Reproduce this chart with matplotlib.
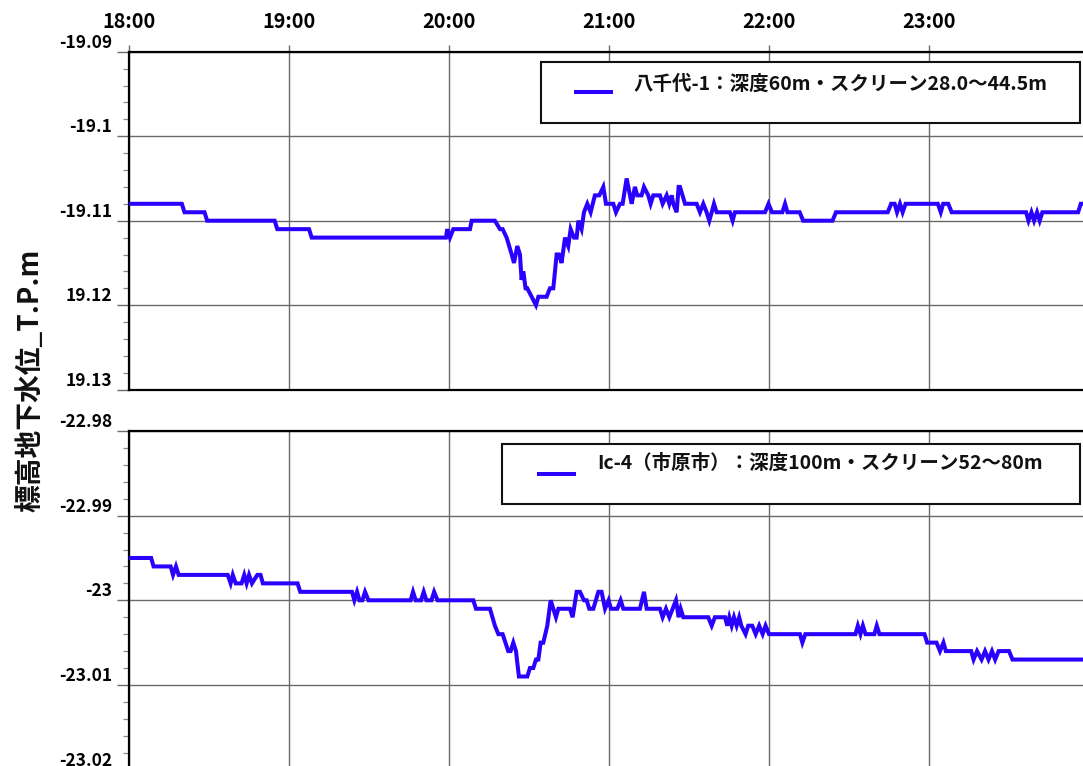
import matplotlib
matplotlib.use("Agg")
import matplotlib.pyplot as plt
import matplotlib.dates as mdates
from matplotlib.patches import Rectangle
from matplotlib.lines import Line2D
from matplotlib.ticker import AutoMinorLocator, FixedLocator, FixedFormatter
import pandas as pd
import numpy as np

plt.rcParams['font.family'] = ['Noto Sans CJK JP', 'DejaVu Sans']
plt.rcParams['font.weight'] = 'bold'

# ---- data: minutes after 18:00 and groundwater level (T.P. m) ----
yachiyo_min = [0, 19.7, 20.7, 28.2, 29.2, 54.5, 55.5, 67.4, 68.4, 118.75, 119.25, 120.25,
               121.5, 127.75, 128.4, 137.1, 139.0, 140.0, 141.5, 143.4, 144.25, 145.5,
               146.5, 147.1, 147.75, 148.6, 149.25, 152.5, 153.4, 156.5, 157.75, 159.0,
               160.25, 161.1, 162.1, 163.4, 164.6, 165.5, 166.75, 167.75, 168.4, 169.6,
               170.5, 171.75, 173.0, 174.6, 176.25, 177.75, 178.75, 181.5, 182.5, 184.0,
               185.0, 186.5, 187.75, 188.4, 189.6, 190.5, 192.1, 193.0, 194.6, 195.5,
               196.5, 199.0, 200.0, 201.5, 202.5, 203.4, 204.0, 205.25, 206.0, 206.5,
               208.4, 212.75, 214.0, 215.25, 216.5, 217.5, 218.4, 219.25, 220.25, 225.25,
               226.25, 227.1, 238.4, 239.7, 241.0, 244.9, 245.9, 246.8, 251.4, 252.7,
               263.7, 265.0, 284.4, 285.7, 287.0, 287.9, 289.0, 290.0, 291.1, 303.2,
               304.3, 305.2, 307.1, 308.4, 336.3, 337.2, 338.3, 339.3, 340.4, 341.4,
               342.4, 355.8, 356.8, 362.0]
yachiyo_lvl = [-19.108, -19.108, -19.109, -19.109, -19.110, -19.110, -19.111, -19.111,
               -19.112, -19.112, -19.111, -19.112, -19.111, -19.111, -19.110, -19.110,
               -19.111, -19.111, -19.112, -19.114, -19.115, -19.113, -19.114, -19.117,
               -19.116, -19.118, -19.118, -19.120, -19.119, -19.119, -19.118, -19.118,
               -19.114, -19.114, -19.115, -19.112, -19.113, -19.111, -19.112, -19.112,
               -19.110, -19.111, -19.109, -19.108, -19.109, -19.107, -19.107, -19.106,
               -19.108, -19.108, -19.109, -19.108, -19.108, -19.105, -19.107, -19.108,
               -19.106, -19.107, -19.107, -19.106, -19.107, -19.108, -19.107, -19.107,
               -19.108, -19.107, -19.108, -19.107, -19.108, -19.109, -19.106, -19.106,
               -19.108, -19.108, -19.109, -19.108, -19.109, -19.110, -19.109, -19.108,
               -19.109, -19.109, -19.110, -19.109, -19.109, -19.108, -19.109, -19.109,
               -19.108, -19.109, -19.109, -19.110, -19.110, -19.109, -19.109, -19.108,
               -19.108, -19.109, -19.108, -19.109, -19.108, -19.108, -19.109, -19.108,
               -19.108, -19.109, -19.109, -19.110, -19.109, -19.110, -19.109, -19.110,
               -19.109, -19.109, -19.108, -19.108]

ichihara_min = [0, 8.2, 9.1, 15.5, 16.4, 17.5, 18.5, 36.9, 38.0, 38.8, 39.9, 42.1, 43.1,
                44.0, 44.9, 46.0, 48.0, 49.2, 50.1, 63.1, 64.1, 83.5, 84.4, 85.4, 86.3,
                87.4, 88.4, 89.7, 105.5, 106.4, 107.4, 109.4, 110.4, 111.4, 113.3, 114.3,
                115.6, 129.0, 130.0, 135.25, 137.1, 138.4, 140.0, 142.1, 143.0, 144.0,
                145.0, 146.1, 149.25, 150.25, 151.5, 152.5, 153.4, 154.25, 155.25, 156.75,
                158.0, 160.0, 160.9, 165.25, 166.25, 167.75, 169.0, 170.5, 171.5, 172.5,
                174.0, 175.9, 177.1, 178.4, 179.75, 180.6, 183.0, 184.25, 185.25, 191.5,
                193.0, 194.0, 199.0, 200.0, 201.25, 202.5, 205.0, 206.0, 206.75, 207.75,
                217.1, 218.4, 219.6, 223.4, 224.25, 225.0, 225.9, 226.75, 227.75, 228.7,
                229.5, 231.1, 232.1, 233.6, 234.9, 236.2, 237.5, 238.6, 239.9, 251.5,
                252.4, 253.5, 272.3, 273.2, 274.2, 275.1, 276.1, 279.4, 280.3, 281.3,
                298.2, 299.2, 302.7, 304.0, 305.3, 306.2, 315.7, 316.6, 317.9, 319.6,
                320.9, 322.2, 323.5, 324.7, 326.0, 329.9, 331.2, 362.0]
ichihara_lvl = [-22.995, -22.995, -22.996, -22.996, -22.997, -22.996, -22.997, -22.997,
                -22.998, -22.997, -22.998, -22.998, -22.997, -22.998, -22.997, -22.998,
                -22.997, -22.997, -22.998, -22.998, -22.999, -22.999, -23.000, -22.999,
                -23.000, -23.000, -22.999, -23.000, -23.000, -22.999, -23.000, -23.000,
                -22.999, -23.000, -23.000, -22.999, -23.000, -23.000, -23.001, -23.001,
                -23.003, -23.004, -23.004, -23.006, -23.006, -23.005, -23.006, -23.009,
                -23.009, -23.008, -23.008, -23.007, -23.007, -23.005, -23.005, -23.003,
                -23.000, -23.002, -23.001, -23.001, -23.002, -22.999, -22.999, -23.000,
                -23.000, -23.001, -23.001, -22.999, -22.999, -23.001, -23.000, -23.001,
                -23.001, -23.000, -23.001, -23.001, -22.999, -23.001, -23.001, -23.002,
                -23.001, -23.002, -23.000, -23.002, -23.001, -23.002, -23.002, -23.003,
                -23.002, -23.002, -23.003, -23.002, -23.003, -23.002, -23.003, -23.002,
                -23.003, -23.004, -23.003, -23.003, -23.004, -23.003, -23.004, -23.003,
                -23.004, -23.004, -23.005, -23.004, -23.004, -23.003, -23.004, -23.003,
                -23.004, -23.004, -23.003, -23.004, -23.004, -23.005, -23.005, -23.006,
                -23.005, -23.006, -23.006, -23.007, -23.006, -23.007, -23.006, -23.007,
                -23.006, -23.007, -23.006, -23.006, -23.007, -23.007]

yachiyo_label = "八千代-1：深度60m・スクリーン28.0〜44.5m"
ichihara_label = "Ic-4（市原市）：深度100m・スクリーン52〜80m"
y_title = "標高地下水位_T.P.m"

yachiyo_ticks = [-19.13, -19.12, -19.11, -19.10, -19.09]
yachiyo_ticklabels = ["19.13", "19.12", "-19.11", "-19.1", "-19.09"]
ichihara_ticks = [-23.02, -23.01, -23.00, -22.99, -22.98]
ichihara_ticklabels = ["-23.02", "-23.01", "-23", "-22.99", "-22.98"]

start = pd.Timestamp("2000-01-01 18:00")
end = pd.Timestamp("2000-01-02 00:00")


def to_time(minutes):
    return (start + pd.to_timedelta(np.asarray(minutes), unit="min")).values


LINE_COLOR = "#2a00ff"
GRID_COLOR = "#6a6a6a"

W, H = 1083, 766
fig = plt.figure(figsize=(W / 100, H / 100), dpi=100)
ax_top = fig.add_axes([129.3 / W, 1 - 389.7 / H, 960 / W, 338 / H])
ax_bot = fig.add_axes([129.3 / W, 1 - 769.6 / H, 960 / W, 338.6 / H])

panels = [
    (ax_top, yachiyo_min, yachiyo_lvl, yachiyo_label, yachiyo_ticks, yachiyo_ticklabels,
     (0.4289, 0.789, 0.5614, 0.1805), (0.4628, 0.5036, 0.8793), (0.5252, 0.9044)),
    (ax_bot, ichihara_min, ichihara_lvl, ichihara_label, ichihara_ticks, ichihara_ticklabels,
     (0.3882, 0.7844, 0.6021, 0.1772), (0.4247, 0.4653, 0.8730), (0.4872, 0.9055)),
]

for ax, mins, lvls, label, yt, ytl, box, hline, txt in panels:
    line, = ax.plot(to_time(mins), lvls, color=LINE_COLOR, lw=2.9,
                    solid_joinstyle="miter", zorder=3)
    ax.set_xlim(start, end)
    ax.set_ylim(yt[0], yt[-1])

    ax.yaxis.set_major_locator(FixedLocator(yt))
    ax.yaxis.set_major_formatter(FixedFormatter(ytl))
    ax.yaxis.set_minor_locator(AutoMinorLocator(5))
    ax.tick_params(axis="y", which="major", direction="out", length=9, width=1.0,
                   color=GRID_COLOR, pad=3.5, labelsize=12.5)
    ax.tick_params(axis="y", which="minor", direction="out", length=4.3, width=0.9,
                   color="#8a8a8a")
    for lbl in ax.get_yticklabels():
        lbl.set_fontweight("bold")
        lbl.set_verticalalignment("bottom")

    ax.xaxis.set_major_locator(mdates.HourLocator(byhour=range(18, 24)))
    ax.xaxis.set_major_formatter(mdates.DateFormatter("%H:%M"))
    ax.grid(True, which="major", color=GRID_COLOR, lw=1.0)

    for side in ["left", "top", "bottom"]:
        ax.spines[side].set_linewidth(1.6)
        ax.spines[side].set_color("black")
    ax.spines["right"].set_visible(False)

    # legend box
    x0, y0, w, h = box
    ax.add_patch(Rectangle((x0, y0), w, h, transform=ax.transAxes, facecolor="white",
                           edgecolor="#111111", lw=1.5, zorder=5, clip_on=False))
    ax.add_line(Line2D([hline[0], hline[1]], [hline[2], hline[2]], transform=ax.transAxes,
                       color=line.get_color(), lw=line.get_linewidth(), zorder=6,
                       solid_capstyle="butt"))
    ax.text(txt[0], txt[1], label, transform=ax.transAxes, ha="left", va="center",
            fontsize=14, fontweight="bold", zorder=6, color="#111111")

ax_top.xaxis.tick_top()
ax_top.tick_params(axis="x", which="major", top=True, bottom=False, labeltop=True,
                   labelbottom=False, direction="out", length=5, width=1.0,
                   color=GRID_COLOR, pad=9, labelsize=14.3)
for lbl in ax_top.get_xticklabels():
    lbl.set_fontweight("bold")
ax_bot.tick_params(axis="x", which="major", top=False, bottom=False, labeltop=False,
                   labelbottom=False)

fig.text(30 / W, 1 - 380 / H, y_title, rotation=90, ha="center", va="center",
         fontsize=20, fontweight="bold", color="#111111")

fig.savefig("out.png", dpi=100, facecolor="white")
